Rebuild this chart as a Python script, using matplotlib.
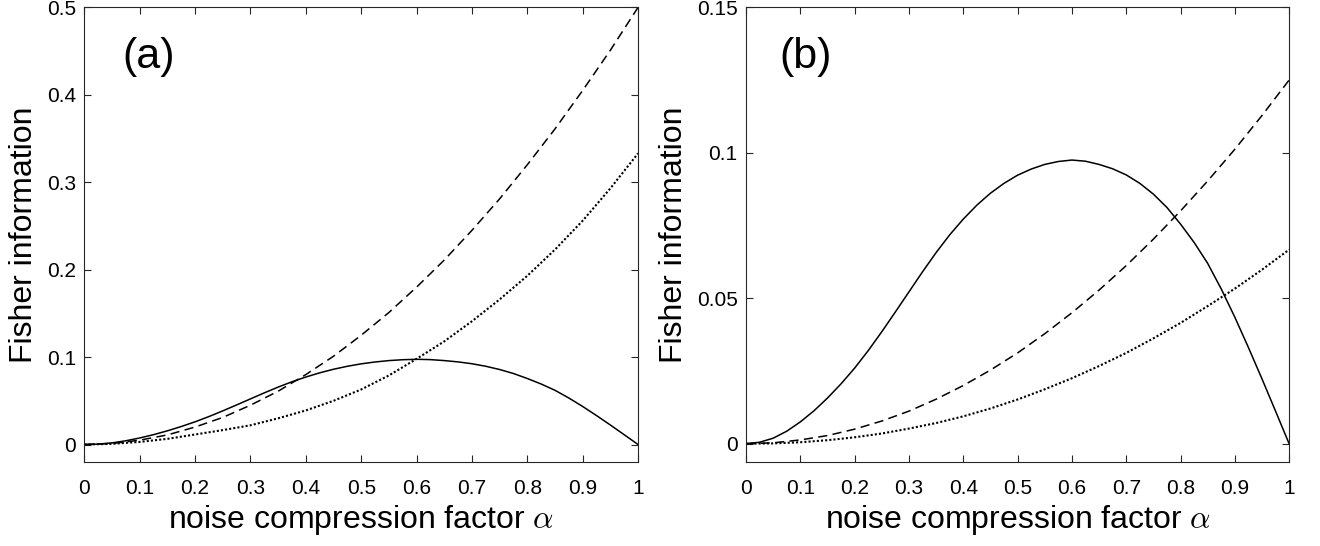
"""
Fisher information vs. noise compression factor, panels (a) and (b).
Curve values read off the reference figure.
"""

import matplotlib
matplotlib.use("Agg")
import matplotlib.pyplot as plt

# ----- data -----
# solid curve, same shape in both panels, read every 0.025
ALPHA_SOLID = [0.000, 0.025, 0.050, 0.075, 0.100, 0.125, 0.150, 0.175, 0.200, 0.225,
               0.250, 0.275, 0.300, 0.325, 0.350, 0.375, 0.400, 0.425, 0.450, 0.475,
               0.500, 0.525, 0.550, 0.575, 0.600, 0.625, 0.650, 0.675, 0.700, 0.725,
               0.750, 0.775, 0.800, 0.825, 0.850, 0.875, 0.900, 0.925, 0.950, 0.975, 1.000]
SOLID = [0.0, 0.0005, 0.0019, 0.0043, 0.0075, 0.0113, 0.0157, 0.0206, 0.0260, 0.0320,
         0.0385, 0.0453, 0.0522, 0.0591, 0.0657, 0.0718, 0.0772, 0.0820, 0.0861, 0.0895,
         0.0923, 0.0944, 0.0960, 0.0970, 0.0975, 0.0971, 0.0960, 0.0945, 0.0924, 0.0895,
         0.0858, 0.0812, 0.0755, 0.0692, 0.0620, 0.0532, 0.0435, 0.0331, 0.0223, 0.0112, 0.0]

# dashed / dotted curves, read every 0.05
ALPHA = [0.00, 0.05, 0.10, 0.15, 0.20, 0.25, 0.30, 0.35, 0.40, 0.45, 0.50,
         0.55, 0.60, 0.65, 0.70, 0.75, 0.80, 0.85, 0.90, 0.95, 1.00]

# panel (a)
DASHED_A = [0.0, 0.0012, 0.005, 0.011, 0.020, 0.031, 0.045, 0.061, 0.080, 0.101, 0.125,
            0.151, 0.180, 0.211, 0.245, 0.281, 0.320, 0.361, 0.405, 0.451, 0.500]
DOTTED_A = [0.0, 0.0008, 0.003, 0.0065, 0.0115, 0.0165, 0.022, 0.030, 0.039, 0.050, 0.063,
            0.079, 0.098, 0.118, 0.141, 0.166, 0.193, 0.223, 0.256, 0.293, 0.333]

# panel (b)
DASHED_B = [0.0, 0.0003, 0.0013, 0.0028, 0.0050, 0.0078, 0.0112, 0.0153, 0.0200, 0.0253, 0.0312,
            0.0378, 0.0450, 0.0528, 0.0612, 0.0703, 0.0800, 0.0903, 0.1012, 0.1128, 0.1250]
DOTTED_B = [0.0, 0.0001, 0.0005, 0.0012, 0.0022, 0.0035, 0.0052, 0.0071, 0.0094, 0.0121, 0.0152,
            0.0187, 0.0225, 0.0267, 0.0312, 0.0362, 0.0415, 0.0473, 0.0533, 0.0598, 0.0667]

XTICKS = [0, 0.1, 0.2, 0.3, 0.4, 0.5, 0.6, 0.7, 0.8, 0.9, 1]
XTICK_LABELS = ["0", "0.1", "0.2", "0.3", "0.4", "0.5", "0.6", "0.7", "0.8", "0.9", "1"]
YTICKS_A = [0, 0.1, 0.2, 0.3, 0.4, 0.5]
YTICK_LABELS_A = ["0", "0.1", "0.2", "0.3", "0.4", "0.5"]
YTICKS_B = [0, 0.05, 0.1, 0.15]
YTICK_LABELS_B = ["0", "0.05", "0.1", "0.15"]

plt.rcParams["font.family"] = ["Liberation Sans", "DejaVu Sans"]
plt.rcParams["mathtext.fontset"] = "cm"

EDGE = "#262626"


def style_axes(ax, yticks, ylabels, ylim):
    ax.set_xlim(0, 1)
    ax.set_ylim(*ylim)
    ax.set_xticks(XTICKS)
    ax.set_xticklabels(XTICK_LABELS)
    ax.set_yticks(yticks)
    ax.set_yticklabels(ylabels)
    ax.tick_params(direction="in", top=True, right=True, length=5, width=0.8,
                   colors=EDGE, labelcolor="black", labelsize=15)
    ax.tick_params(axis="x", pad=12)
    ax.tick_params(axis="y", pad=6)
    for sp in ax.spines.values():
        sp.set_color(EDGE)
        sp.set_linewidth(0.8)
    ax.set_xlabel(r"noise compression factor $\alpha$", fontsize=23, labelpad=4)
    ax.set_ylabel("Fisher information", fontsize=23, labelpad=6)


def draw(ax, dashed, dotted):
    ax.plot(ALPHA_SOLID, SOLID, color="black", lw=1.1, solid_joinstyle="round")
    ax.plot(ALPHA, dashed, color="black", lw=1.1, dashes=(6, 3.5))
    ax.plot(ALPHA, dotted, color="black", lw=1.5, dashes=(1, 1))


def main():
    fig = plt.figure(figsize=(13.2, 5.46), dpi=100)
    ax_a = fig.add_axes([0.0639, 0.1538, 0.4195, 0.8328])
    ax_b = fig.add_axes([0.5652, 0.1538, 0.4114, 0.8328])

    draw(ax_a, DASHED_A, DOTTED_A)
    style_axes(ax_a, YTICKS_A, YTICK_LABELS_A, (-0.02, 0.5))
    ax_a.text(0.116, 0.89, "(a)", transform=ax_a.transAxes, fontsize=31,
              ha="center", va="center")

    draw(ax_b, DASHED_B, DOTTED_B)
    style_axes(ax_b, YTICKS_B, YTICK_LABELS_B, (-0.0063, 0.15))
    ax_b.text(0.11, 0.89, "(b)", transform=ax_b.transAxes, fontsize=31,
              ha="center", va="center")

    fig.savefig("out.png", dpi=100)


if __name__ == "__main__":
    main()
